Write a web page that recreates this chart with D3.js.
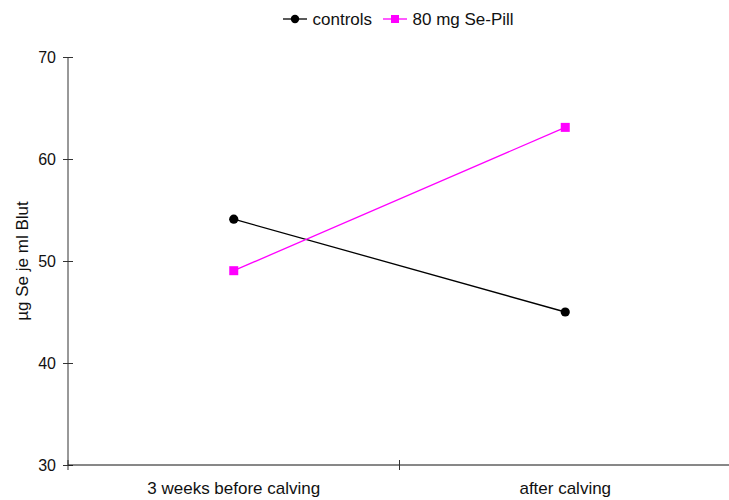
<!DOCTYPE html>
<html>
<head>
<meta charset="utf-8">
<script src="https://cdn.jsdelivr.net/npm/d3@7"></script>
<style>
  html, body { margin: 0; padding: 0; background: #fff; }
  svg { display: block; font-family: "Liberation Sans", Arial, sans-serif; }
</style>
</head>
<body>
<svg id="chart" width="729" height="500"></svg>
<script>
const categories = ["3 weeks before calving", "after calving"];
const seriesNames = ["controls", "80 mg Se-Pill"];
const controls = [54.1, 45.0];
const sePill = [49.05, 63.1];
const yTicks = [30, 40, 50, 60, 70];
const yTitle = "µg Se je ml Blut";

const colors = ["#000000", "#ff00ff"];
const shapes = ["circle", "square"];
const series = [controls, sePill];

const svg = d3.select("#chart");
const margin = { left: 68, right: -2, top: 57, bottom: 35 };
const W = 729, H = 500;

const x = d3.scaleBand().domain(categories).range([margin.left, W - margin.right]).padding(0);
const y = d3.scaleLinear().domain([30, 70]).range([H - margin.bottom, margin.top]);

// Y axis
const yAxis = svg.append("g").attr("transform", `translate(${margin.left},0)`)
  .call(d3.axisLeft(y).tickValues(yTicks).tickSize(5).tickPadding(7).tickFormat(d3.format("d")));
yAxis.select(".domain").attr("d", `M0,${y(70)}V${y(30)}`).attr("stroke", "#333");
yAxis.selectAll(".tick line").attr("x1", -5).attr("x2", 5).attr("stroke", "#333");
yAxis.selectAll(".tick text").attr("font-size", 16).attr("fill", "#111")
  .attr("font-family", "'Liberation Sans', Arial, sans-serif");

// X axis
const xAxis = svg.append("g").attr("transform", `translate(0,${y(30)})`)
  .call(d3.axisBottom(x).tickSize(0).tickPadding(17));
xAxis.select(".domain").attr("d", `M${margin.left},0H${W + 2}`).attr("stroke", "#111");
xAxis.selectAll(".tick line").remove();
xAxis.selectAll(".tick text").attr("font-size", 17).attr("fill", "#111")
  .attr("font-family", "'Liberation Sans', Arial, sans-serif");
// band boundary ticks
const bounds = [x.range()[0], x(categories[1]), x.range()[1]];
xAxis.selectAll("line.bound").data(bounds).enter().append("line")
  .attr("class", "bound")
  .attr("x1", d => d).attr("x2", d => d).attr("y1", -5).attr("y2", 5)
  .attr("stroke", "#333");

// Y title
svg.append("text")
  .attr("transform", `translate(22,${y(50)}) rotate(-90)`)
  .attr("text-anchor", "middle")
  .attr("dominant-baseline", "central")
  .attr("font-size", 17).attr("fill", "#111")
  .text(yTitle);

// Lines and markers
const cx = c => x(c) + x.bandwidth() / 2;
const line = d3.line().x(d => cx(d.c)).y(d => y(d.v));
series.forEach((vals, i) => {
  const data = vals.map((v, j) => ({ c: categories[j], v }));
  svg.append("path").datum(data).attr("d", line)
    .attr("fill", "none").attr("stroke", colors[i]).attr("stroke-width", 1.3);
  data.forEach(d => {
    if (shapes[i] === "circle") {
      svg.append("circle").attr("cx", cx(d.c)).attr("cy", y(d.v)).attr("r", 4.6).attr("fill", colors[i]);
    } else {
      svg.append("rect").attr("x", cx(d.c) - 4.5).attr("y", y(d.v) - 4.5)
        .attr("width", 9).attr("height", 9).attr("fill", colors[i]);
    }
  });
});

// Legend
const legendX = [283, 383];
const legendY = 19;
seriesNames.forEach((name, i) => {
  const g = svg.append("g").attr("transform", `translate(${legendX[i]},${legendY})`);
  g.append("line").attr("x1", 0).attr("x2", 24).attr("y1", 0).attr("y2", 0)
    .attr("stroke", colors[i]).attr("stroke-width", 1.3);
  if (shapes[i] === "circle") {
    g.append("circle").attr("cx", 12).attr("cy", 0).attr("r", 4.2).attr("fill", colors[i]);
  } else {
    g.append("rect").attr("x", 8).attr("y", -4).attr("width", 8).attr("height", 8).attr("fill", colors[i]);
  }
  g.append("text").attr("x", 29.5).attr("y", 0).attr("dominant-baseline", "central")
    .attr("font-size", 17).attr("fill", "#111").text(name);
});
</script>
</body>
</html>
